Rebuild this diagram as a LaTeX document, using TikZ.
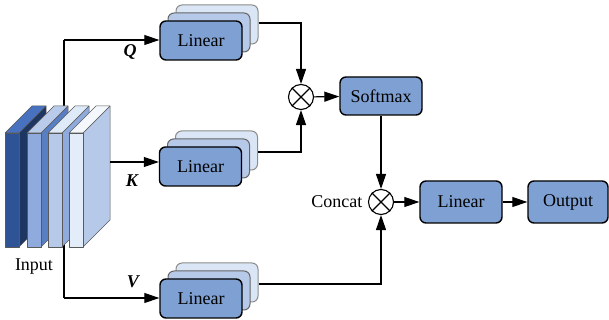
\documentclass[tikz,border=0pt]{standalone}
\usepackage{fontspec}
\setmainfont{Liberation Serif}
\usetikzlibrary{arrows.meta,calc}
\definecolor{boxfront}{RGB}{127,160,211}
\definecolor{boxmid}{RGB}{182,201,233}
\definecolor{boxback}{RGB}{218,230,245}
\definecolor{slabA}{RGB}{47,84,150}
\definecolor{slabAtop}{RGB}{72,114,192}
\definecolor{slabAside}{RGB}{30,54,98}
\definecolor{slabB}{RGB}{143,170,220}
\definecolor{slabBtop}{RGB}{184,203,234}
\definecolor{slabBside}{RGB}{88,126,196}
\definecolor{slabC}{RGB}{182,201,233}
\definecolor{slabCtop}{RGB}{222,234,247}
\definecolor{slabCside}{RGB}{143,170,220}
\definecolor{slabD}{RGB}{226,237,249}
\definecolor{slabDtop}{RGB}{244,248,253}
\definecolor{slabDside}{RGB}{182,201,233}
\tikzset{
  x=1pt, y=1pt,
  conn/.style={line width=1.1pt, draw=black},
  arr/.style={conn, -{Triangle[length=15pt,width=10pt]}},
  fbox/.style={draw=black, line width=1.4pt, fill=boxfront, rounded corners=6pt,
    minimum width=82pt, minimum height=39pt, inner sep=0pt,
    font=\fontsize{18}{20}\selectfont},
  mbox/.style={draw=black!60, line width=1pt, fill=boxmid, rounded corners=6pt,
    minimum width=82pt, minimum height=39pt, inner sep=0pt},
  bbox/.style={draw=black!45, line width=1pt, fill=boxback, rounded corners=6pt,
    minimum width=82pt, minimum height=39pt, inner sep=0pt},
  mult/.style={circle, draw=black, line width=1.1pt, fill=white, minimum size=25pt, inner sep=0pt},
  lbl/.style={font=\fontsize{18}{20}\selectfont},
  vlbl/.style={font=\fontsize{18}{20}\selectfont\bfseries\itshape},
  slabline/.style={draw=black!65, line width=0.5pt, line join=round}
}
% one slab of the input stack: front colour, top colour, side colour, left x
\newcommand{\inslab}[4]{%
  \filldraw[slabline, fill=#3] (#4+14,187) -- (#4+14,73) -- (#4+41,100) -- (#4+41,214) -- cycle;
  \filldraw[slabline, fill=#2] (#4,187) -- (#4+14,187) -- (#4+41,214) -- (#4+27,214) -- cycle;
  \filldraw[slabline, fill=#1] (#4,73) rectangle (#4+14,187);
}
\begin{document}
\begin{tikzpicture}
\useasboundingbox (0,0) rectangle (609,320);

% stacked Linear layers
\newcommand{\linstack}[3]{%
  \node[bbox] (#1b) at (#2+16,#3+16) {};
  \node[mbox] (#1m) at (#2+8,#3+8) {};
  \node[fbox] (#1) at (#2,#3) {Linear};
}

% input trunk (drawn before the slabs so they cover it)
\coordinate (trunktop) at (64,280);
\coordinate (trunkbot) at (64,22);
\coordinate (kstart) at (110,158);

\linstack{qlin}{201}{279.5}
\linstack{klin}{200.5}{153.5}
\linstack{vlin}{201}{21.5}

\node[mult] (m1) at (301,223) {};
\node[mult] (m2) at (381,118) {};
\draw[line width=1.1pt] (m1.north east) -- (m1.south west) (m1.north west) -- (m1.south east);
\draw[line width=1.1pt] (m2.north east) -- (m2.south west) (m2.north west) -- (m2.south east);

\node[fbox, minimum width=82pt, minimum height=38pt] (soft) at (381,224) {Softmax};
\node[fbox, minimum height=42pt] (lin) at (461,118) {Linear};
\node[fbox, minimum width=80pt, minimum height=42pt] (out) at (568,118) {Output};

% input branches
\draw[conn] (trunkbot) -- (trunktop);
\draw[arr] (trunktop) -- (trunktop -| qlin.west);
\draw[arr] (trunkbot) -- (trunkbot -| vlin.west);

% input tensor
\inslab{slabA}{slabAtop}{slabAside}{5}
\inslab{slabB}{slabBtop}{slabBside}{27}
\inslab{slabC}{slabCtop}{slabCside}{48}
\inslab{slabD}{slabDtop}{slabDside}{69}

\draw[arr] (kstart) -- (kstart -| klin.west);

\node[lbl] (inlbl) at (34,53) {Input};
\node[vlbl] (qlbl) at (130,268) {Q};
\node[vlbl] (klbl) at (132,139) {K};
\node[vlbl] (vlbl) at (133,38) {V};

% attention scores
\coordinate (qout) at ($(qlinb.east)+(0,1.5)$);
\coordinate (kout) at ($(klinb.east)+(0,-1.5)$);
\coordinate (vout) at ($(vlinb.east)+(0,-1.5)$);
\draw[arr] (qout) -| (m1.north);
\draw[arr] (kout) -| (m1.south);
\draw[arr] (m1) -- (soft);
\draw[arr] (soft) -- (m2.north);
\draw[arr] (vout) -| (m2.south);
\node[lbl, anchor=east] (concat) at ($(m2.west)+(-2,0)$) {Concat};
\draw[arr] (m2) -- (lin);
\draw[arr] (lin) -- (out);
\end{tikzpicture}
\end{document}
